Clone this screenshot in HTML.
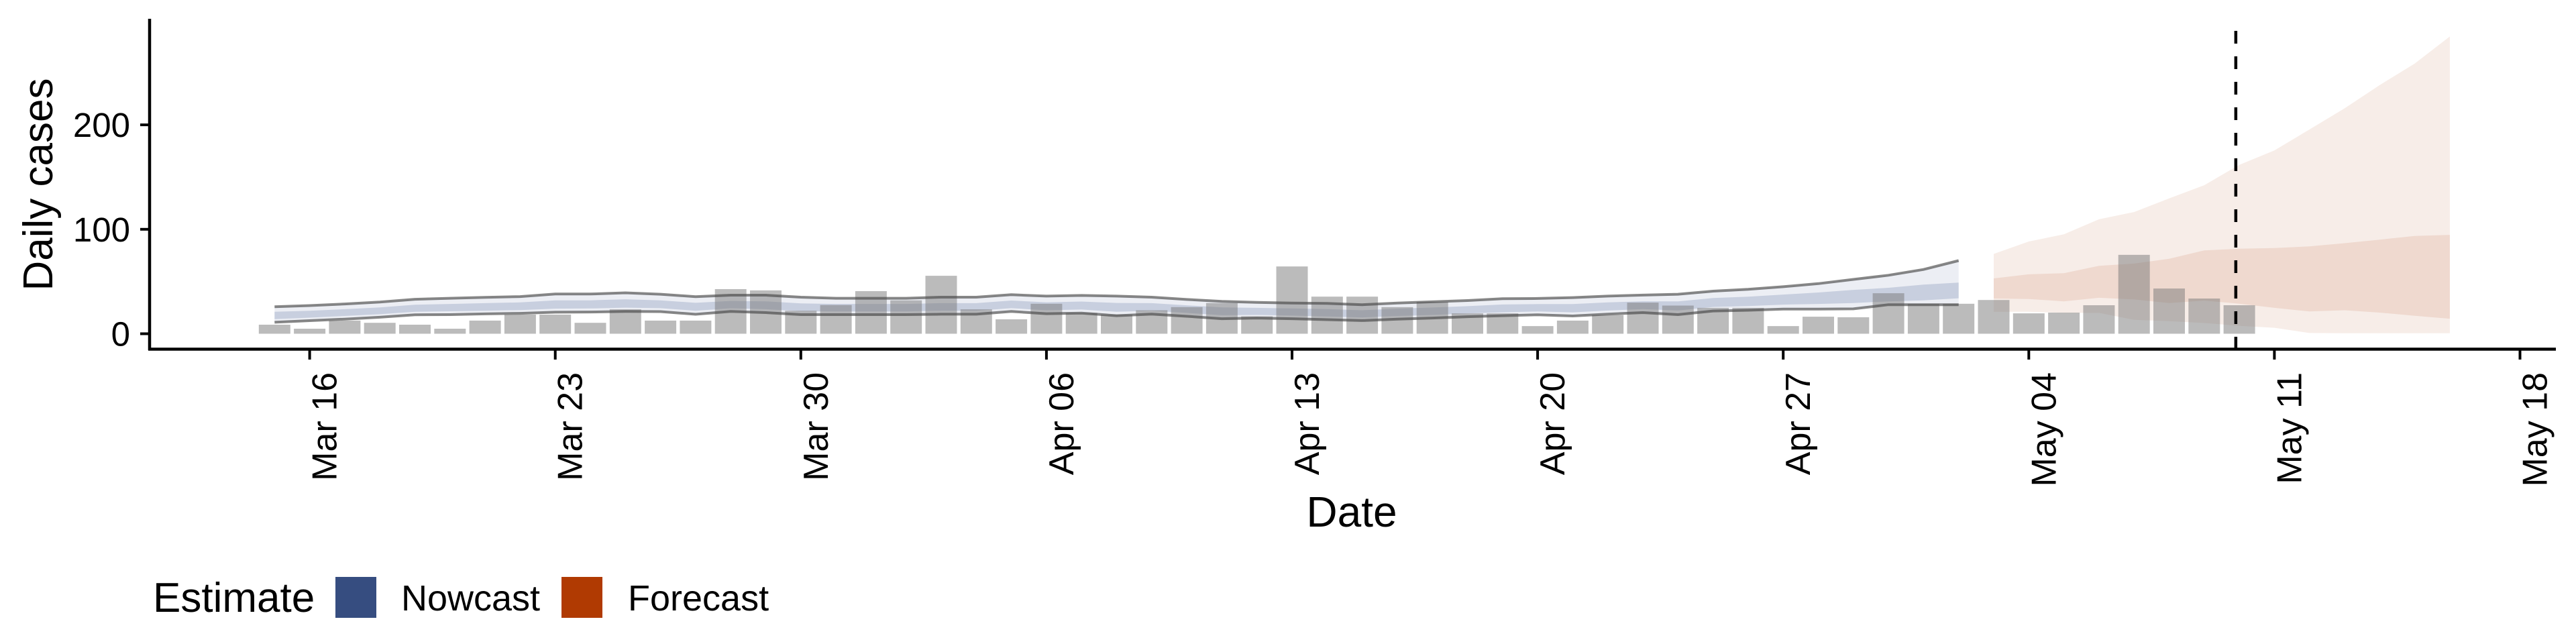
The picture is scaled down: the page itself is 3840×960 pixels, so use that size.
<!DOCTYPE html>
<html><head><meta charset="utf-8"><style>
html,body{margin:0;padding:0;background:#fff;}
svg{display:block;font-family:"Liberation Sans",sans-serif;}
</style></head><body>
<svg id="chart" width="3840" height="960" viewBox="0 0 3840 960" xmlns="http://www.w3.org/2000/svg">
<g id="ribbons"></g>
<g id="bars"></g>
<g id="lines"></g>
<g id="axes"></g>
<text transform="translate(78,275) rotate(-90)" text-anchor="middle" font-size="62">Daily cases</text>
<text x="2015" y="785" text-anchor="middle" font-size="64">Date</text>
<g>
<text x="228" y="912" font-size="62">Estimate</text>
<rect x="500" y="860" width="61" height="61" fill="#364d80"/>
<text x="598" y="910" font-size="54">Nowcast</text>
<rect x="837" y="860" width="61" height="61" fill="#b03a02"/>
<text x="936" y="910" font-size="54">Forecast</text>
</g>
</svg>
<script>
// day index 0 = Mar 15
const barCases = [8.7,4.8,12.6,10.5,8.7,4.8,12.6,18.3,18.3,10.5,23.4,12.6,12.6,42.7,41.5,22,27.5,40.8,32,55.5,23.4,13.8,28.7,
 20,18.3,22.5,25.5,29.4,16.7,64.4,35.5,35.5,25.5,30.5,19.5,19.5,7.3,12.6,17.9,29.8,27,24.8,24.8,7.3,16.3,15.8,38.8,28.7,28.7,32.3,
 19.5,20.2,27.3,75.5,43.3,33.7,27.3];
const nowUpper = [25.9,27,28.5,30.3,33,34,34.8,35.6,38,38,39.2,37.8,35.5,36.9,36.9,35,34,34,34,35,35,37.4,36,36.7,36,35,32.8,31,30,29.4,29,27.8,29.4,30.6,31.8,33.5,33.8,34.6,36,37,37.8,40.8,42.5,45,48,52,56,61.5,70];
const nowLower = [11,12.5,14,15.8,18.2,18.3,19,19.5,20.6,20.8,21.3,21.2,18.6,21.3,20.2,18.3,18.3,18.3,18.3,18.7,18.7,21.3,19.2,19.8,17.3,18.8,16.7,14.4,15,14.4,13.5,12.6,14,15,16.3,17.3,18.2,17,18.8,20.2,18.3,21.8,22.5,23.6,23.6,23.8,27.8,27.8,27.8];
const nowInnerUpper = [21,22,23.5,25.2,27.8,28.5,29.3,30,32,32,33,32,29.6,31.4,31,29,28.5,28.5,28.5,29.3,29.3,31.8,30.1,30.8,29.5,29.3,27.2,25.2,24.8,24.2,23.6,22.5,24,25.1,26.4,28,28.4,28.4,30,31.1,31,34.2,35.5,37.5,39.5,42,44,47,49];
const nowInnerLower = [14,15.4,17,18.7,21,21.5,22,22.7,24,24.2,25,24.5,22,24.4,23.5,21.6,21.4,21.4,21.4,22,22,24.5,22.5,23.2,21,22,20,17.7,18,17.4,16.6,15.6,17,18,19.4,20.5,21.3,20.5,22.2,23.6,22.2,25.6,26.5,27.9,28.5,29.4,31,32,34];
// forecast: day index 49 (May 3) .. 62 (May 16)
const fcStart = 49;
const fcUpper = [76.4,88.3,95.2,109.6,116.5,129.6,142.2,161.7,175.5,195.6,215.8,238,258.7,284.6];
const fcLower = [21,21,20,20,13.3,12,10.3,7.6,5.7,0.7,0.5,0.5,0.5,0.5];
const fcInnerUpper = [53,56.9,58,65,67.2,71.8,79.8,81.4,82,83.7,86.7,90.1,93.6,94.7];
const fcInnerLower = [33.7,33.3,31,34.4,32.8,29.4,31.7,28.7,24.8,21.3,22.5,20.2,17.2,14.4];
const xTickLabels = ["Mar 16","Mar 23","Mar 30","Apr 06","Apr 13","Apr 20","Apr 27","May 04","May 11","May 18"];
const xTickDays = [1,8,15,22,29,36,43,50,57,64];
const yTicks = [0,100,200];
const forecastDateDay = 55.9;

const NS="http://www.w3.org/2000/svg";
function xs(d){return 409.3+52.3*d;}
function ys(v){return 497.5-v*1.557;}
function mk(tag,attrs,parent){const e=document.createElementNS(NS,tag);for(const k in attrs)e.setAttribute(k,attrs[k]);parent.appendChild(e);return e;}
function band(up,lo,off){let p="";up.forEach((v,i)=>{p+=(i?"L":"M")+xs(i+off).toFixed(1)+","+ys(v).toFixed(1);});
 for(let i=lo.length-1;i>=0;i--)p+="L"+xs(i+off).toFixed(1)+","+ys(lo[i]).toFixed(1);return p+"Z";}
function line(arr,off){return arr.map((v,i)=>(i?"L":"M")+xs(i+off).toFixed(1)+","+ys(v).toFixed(1)).join("");}

const rib=document.getElementById("ribbons");
let e;
e=mk("path",{d:band(nowUpper,nowLower,0),fill:"#eceef4"},rib);


e=mk("path",{d:band(nowInnerUpper,nowInnerLower,0),fill:"#c8cfdf"},rib);


e=mk("path",{d:band(fcUpper,fcLower,fcStart),fill:"#f7ede8"},rib);


e=mk("path",{d:band(fcInnerUpper,fcInnerLower,fcStart),fill:"#efd9cf"},rib);



const bars=document.getElementById("bars");
barCases.forEach((v,i)=>{
 const b=mk("rect",{x:(xs(i)-23.5).toFixed(1),y:ys(v).toFixed(1),width:47,height:(ys(0)-ys(v)).toFixed(1),fill:"rgba(120,120,120,0.5)"},bars);
 
 
});

const lines=document.getElementById("lines");
e=mk("path",{d:line(nowUpper,0),fill:"none",stroke:"rgba(70,70,70,0.65)","stroke-width":4},lines);


e=mk("path",{d:line(nowLower,0),fill:"none",stroke:"rgba(70,70,70,0.65)","stroke-width":4},lines);



const ax=document.getElementById("axes");
e=mk("line",{x1:xs(forecastDateDay),x2:xs(forecastDateDay),y1:46,y2:519,stroke:"#000","stroke-width":4.5,"stroke-dasharray":"19 19"},ax);


e=mk("line",{x1:223,x2:223,y1:28,y2:522,stroke:"#000","stroke-width":4.5},ax);


e=mk("line",{x1:221,x2:3810,y1:520.5,y2:520.5,stroke:"#000","stroke-width":4.5},ax);


yTicks.forEach(v=>{
 const t=mk("line",{x1:209,x2:223,y1:ys(v),y2:ys(v),stroke:"#000","stroke-width":4},ax);
 
 
 const l=mk("text",{x:194,y:ys(v)+18,"text-anchor":"end","font-size":51,fill:"#000"},ax);
 l.textContent=v;
 
 
});
xTickDays.forEach((d,i)=>{
 const x=xs(d);
 const t=mk("line",{x1:x,x2:x,y1:520,y2:536,stroke:"#000","stroke-width":4},ax);
 
 
 const l=mk("text",{transform:"translate("+(x+40)+",555) rotate(-90)","text-anchor":"end","font-size":52,fill:"#000"},ax);
 l.textContent=xTickLabels[i];
 
 
});
</script>
</body></html>
